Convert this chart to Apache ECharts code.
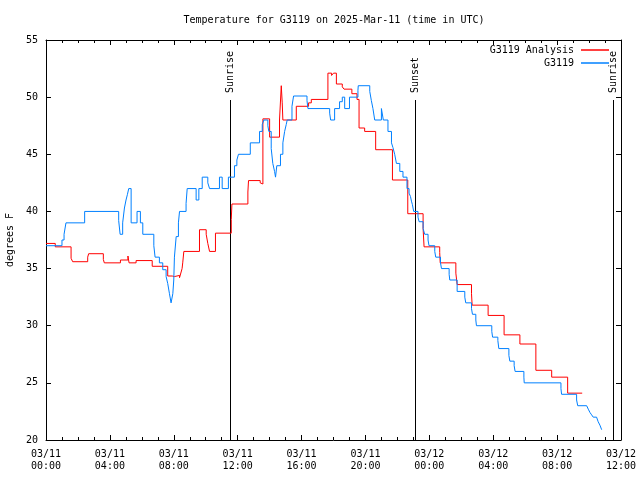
<!DOCTYPE html>
<html>
<head>
<meta charset="utf-8">
<script src="https://cdn.jsdelivr.net/npm/echarts@6/dist/echarts.min.js"></script>
<style>html,body{margin:0;padding:0;background:#fff}#c{width:640px;height:480px}</style>
</head>
<body>
<div id="c"></div>
<script>
// Time axis: hours since 03/11 00:00 UTC
const xTickLabels = ["03/11\n00:00","03/11\n04:00","03/11\n08:00","03/11\n12:00","03/11\n16:00","03/11\n20:00","03/12\n00:00","03/12\n04:00","03/12\n08:00","03/12\n12:00"];
const yTickValues = [20,25,30,35,40,45,50,55];

const analysisTimes = [0,0.58,1.57,1.67,2.61,2.67,3.59,3.65,4.66,5.13,5.20,5.64,6.65,7.62,7.9,8.04,8.36,8.46,8.52,8.56,8.63,9.61,10.03,10.13,10.24,10.61,11.6,11.64,12.64,12.68,13.41,13.52,13.58,14.0,14.62,14.73,14.79,14.83,15.67,16.44,16.61,17.65,17.88,18.0,18.18,18.55,18.66,19.15,19.47,19.6,19.95,20.64,21.69,22.65,23.61,23.67,24.65,24.68,25.66,25.74,26.64,26.68,27.68,28.68,29.67,30.67,31.66,32.66,33.57];
const analysisValues = [37.2,36.9,35.9,35.6,36.0,36.3,35.8,35.5,35.75,36.1,35.5,35.7,35.2,34.35,34.3,34.4,34.2,34.7,35.0,35.5,36.5,38.4,38.0,37.2,36.5,38.1,39.3,40.65,41.7,42.7,42.5,42.4,48.1,46.5,48.0,51.0,49.5,48.0,49.2,49.5,49.8,52.1,51.9,52.1,51.15,50.9,50.7,50.3,49.8,47.3,47.0,45.4,42.75,39.8,38.5,36.9,36.4,35.5,34.6,33.6,32.8,31.8,30.9,29.2,28.4,26.1,25.5,24.1,24.1];

const stationTimes = [0,1.0,1.13,1.25,2.42,4.55,4.64,4.80,4.91,5.01,5.10,5.18,5.33,5.70,5.91,6.06,6.75,6.83,7.10,7.31,7.52,7.62,7.73,7.83,7.94,8.0,8.04,8.15,8.29,8.36,8.77,8.84,9.40,9.57,9.78,10.13,10.24,10.86,11.03,11.42,11.80,11.95,12.05,12.79,13.37,13.54,13.64,13.89,13.95,14.10,14.20,14.31,14.37,14.45,14.68,14.83,14.94,15.04,15.10,15.40,15.50,16.34,16.40,17.76,17.82,18.07,18.38,18.55,18.70,19.00,19.53,19.55,20.27,20.37,20.47,20.58,21.00,21.12,21.41,21.63,21.72,21.83,21.94,22.15,22.35,22.60,22.73,22.82,22.88,22.94,23.02,23.29,23.36,23.61,23.71,23.92,23.98,24.34,24.40,24.70,24.76,25.24,25.28,25.74,26.22,26.28,26.64,26.70,26.91,26.95,27.91,27.96,28.29,28.35,28.98,29.04,29.31,29.37,29.92,29.94,32.24,32.28,33.22,33.29,33.85,33.95,34.06,34.16,34.26,34.47,34.57,34.68,34.79];
const stationValues = [37.0,37.5,38.0,39.0,40.0,39.2,38.0,39.0,40.3,41.0,41.5,42.0,39.0,40.0,39.0,38.0,37.0,36.0,35.5,34.9,34.3,33.7,32.8,32.0,32.8,34.0,36.0,37.8,39.0,40.0,40.7,42.0,41.0,42.0,43.0,42.5,42.0,43.0,42.0,43.0,44.0,44.5,45.0,46.0,47.0,47.6,48.0,47.5,47.0,45.5,44.2,43.5,43.0,44.0,45.0,46.0,47.0,47.6,48.0,49.2,50.1,49.7,49.0,48.6,48.0,49.0,49.6,50.0,49.0,50.0,50.6,51.0,50.5,49.7,49.0,48.0,49.0,48.0,47.0,46.0,45.6,45.0,44.2,43.5,43.0,42.0,41.6,41.3,40.9,40.6,40.0,39.5,39.1,38.5,38.0,37.5,37.0,36.5,36.0,35.5,35.0,34.5,34.0,33.0,32.5,32.0,31.5,31.0,30.5,30.0,29.5,29.0,28.7,28.0,27.4,26.9,26.5,26.0,25.5,25.0,24.5,24.0,23.5,23.0,22.9,22.7,22.4,22.2,22.0,22.0,21.6,21.3,20.9];

const eventTimes = [11.53, 23.09, 35.52];
const eventLabels = ["Sunrise", "Sunset", "Sunrise"];

const FONT = '"DejaVu Sans Mono", monospace';
const pairs = (ts, vs) => ts.map((t, i) => [t, vs[i]]);

const chart = echarts.init(document.getElementById('c'), null, {renderer: 'canvas'});
const axisCommon = {
  type: 'value', min: 0, max: 36, interval: 4,
  axisLine: {show: true, onZero: false, lineStyle: {color: '#000', width: 1}},
  axisTick: {show: true, inside: true, length: 5, lineStyle: {color: '#000'}},
  minorTick: {show: true, splitNumber: 4, length: 3, lineStyle: {color: '#000'}},
  splitLine: {show: false}
};
const yCommon = {
  type: 'value', min: 20, max: 55, interval: 5,
  axisLine: {show: true, onZero: false, lineStyle: {color: '#000', width: 1}},
  axisTick: {show: true, inside: true, length: 5, lineStyle: {color: '#000'}},
  splitLine: {show: false}
};

chart.setOption({
  animation: false,
  backgroundColor: '#fff',
  title: {
    text: 'Temperature for G3119 on 2025-Mar-11 (time in UTC)',
    left: 334, top: 15, textAlign: 'center', padding: 0,
    textStyle: {fontFamily: FONT, fontSize: 10, fontWeight: 'normal', color: '#000'}
  },
  grid: {left: 46, right: 19, top: 40, bottom: 40, containLabel: false, outerBoundsMode: 'none'},
  legend: {
    data: ['G3119 Analysis', 'G3119'],
    orient: 'vertical', align: 'right', right: 31, top: 44, padding: 0,
    icon: 'rect', itemWidth: 28, itemHeight: 1.5, itemGap: 1,
    textStyle: {fontFamily: FONT, fontSize: 10, color: '#000', lineHeight: 12, padding: [0, 2, 0, 0]}
  },
  xAxis: [
    Object.assign({}, axisCommon, {
      position: 'bottom',
      axisLabel: {
        fontFamily: FONT, fontSize: 10, color: '#000', lineHeight: 12, margin: 8,
        formatter: v => xTickLabels[Math.round(v / 4)] || ''
      }
    }),
    Object.assign({}, axisCommon, {position: 'top', axisLabel: {show: false}})
  ],
  yAxis: [
    Object.assign({}, yCommon, {
      position: 'left',
      name: 'degrees F', nameLocation: 'middle', nameRotate: 90, nameGap: 30,
      nameTextStyle: {fontFamily: FONT, fontSize: 10, color: '#000'},
      axisLabel: {fontFamily: FONT, fontSize: 10, color: '#000', margin: 8,
        formatter: v => yTickValues.indexOf(v) >= 0 ? String(v) : ''}
    }),
    Object.assign({}, yCommon, {position: 'right', axisLabel: {show: false}})
  ],
  series: [
    {
      type: 'custom', name: 'events', xAxisIndex: 0, yAxisIndex: 0, silent: true, clip: false,
      data: eventTimes.map((t, i) => [t, i]),
      renderItem: function (params, api) {
        const t = api.value(0);
        const idx = api.value(1);
        const top = api.coord([t, 20 + 0.85 * 35]);
        const bot = api.coord([t, 20]);
        const lx = Math.round(top[0]) + 0.5;
        return {
          type: 'group',
          children: [
            {type: 'line', shape: {x1: lx, y1: top[1], x2: lx, y2: bot[1]},
             style: {stroke: '#000', lineWidth: 1}},
            {type: 'text', x: lx, y: top[1] - 7, rotation: Math.PI / 2,
             style: {text: eventLabels[idx], align: 'left', verticalAlign: 'middle',
                     font: '10px ' + FONT, fill: '#000'}}
          ]
        };
      }
    },
    {
      type: 'line', name: 'G3119 Analysis', step: 'end', symbol: 'none',
      data: pairs(analysisTimes, analysisValues),
      lineStyle: {color: '#ff0000', width: 1}, itemStyle: {color: '#ff0000'}
    },
    {
      type: 'line', name: 'G3119', step: 'end', symbol: 'none',
      data: pairs(stationTimes, stationValues),
      lineStyle: {color: '#0080ff', width: 1}, itemStyle: {color: '#0080ff'}
    }
  ]
});
</script>
</body>
</html>
